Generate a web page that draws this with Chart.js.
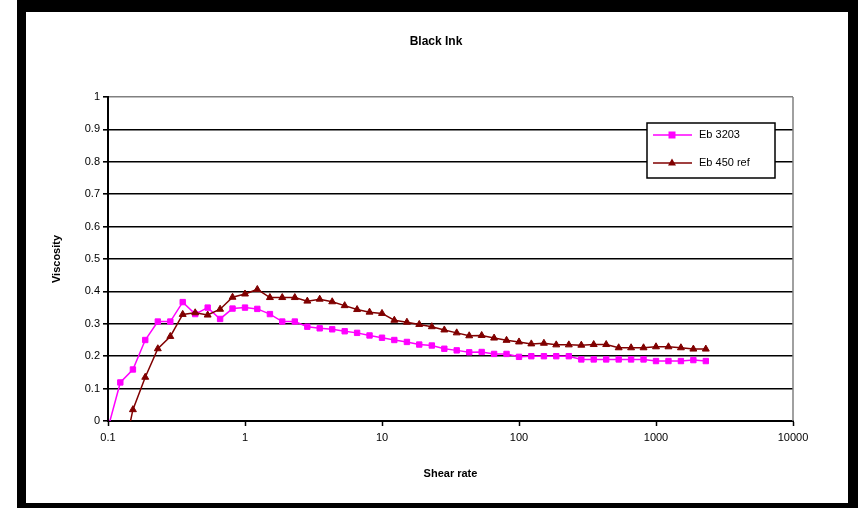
<!DOCTYPE html>
<html>
<head>
<meta charset="utf-8">
<script src="https://cdn.jsdelivr.net/npm/chart.js@4/dist/chart.umd.min.js"></script>
<style>
  html, body { margin: 0; padding: 0; background: #fff; }
  #wrap { position: relative; width: 860px; height: 508px; }
</style>
</head>
<body>
<div id="wrap"><canvas id="chart" width="860" height="508"></canvas></div>
<script>
// Shear rate sweep (log spaced, ~11 points per decade)
const shearRate = [
  0.100, 0.123, 0.152, 0.187, 0.231, 0.285, 0.351, 0.433, 0.534, 0.658,
  0.811, 1.00, 1.23, 1.52, 1.87, 2.31, 2.85, 3.51, 4.33, 5.34,
  6.58, 8.11, 10.0, 12.3, 15.2, 18.7, 23.1, 28.5, 35.1, 43.3,
  53.4, 65.8, 81.1, 100, 123, 152, 187, 231, 285, 351,
  433, 534, 658, 811, 1000, 1233, 1520, 1874, 2310
];

// Viscosity, Eb 3203
const eb3203 = [
  -0.022, 0.119, 0.159, 0.250, 0.307, 0.307, 0.367, 0.330, 0.350, 0.315,
  0.347, 0.350, 0.346, 0.330, 0.307, 0.307, 0.291, 0.286, 0.283, 0.277,
  0.272, 0.264, 0.257, 0.250, 0.244, 0.236, 0.233, 0.223, 0.218, 0.212,
  0.213, 0.207, 0.207, 0.198, 0.200, 0.200, 0.200, 0.200, 0.190, 0.190,
  0.190, 0.190, 0.190, 0.190, 0.185, 0.185, 0.185, 0.188, 0.185
];

// Viscosity, Eb 450 ref (no reading at the first shear rate)
const eb450ref = [
  null, -0.150, 0.035, 0.135, 0.223, 0.261, 0.329, 0.334, 0.327, 0.345,
  0.382, 0.392, 0.406, 0.381, 0.381, 0.381, 0.370, 0.376, 0.368, 0.356,
  0.344, 0.336, 0.332, 0.311, 0.305, 0.298, 0.291, 0.281, 0.272, 0.263,
  0.264, 0.256, 0.249, 0.244, 0.238, 0.240, 0.235, 0.235, 0.234, 0.236,
  0.236, 0.226, 0.226, 0.226, 0.229, 0.229, 0.226, 0.222, 0.222
];

const seriesNames = ['Eb 3203', 'Eb 450 ref'];
const xTickValues = [0.1, 1, 10, 100, 1000, 10000];

const toPoints = (vals) => shearRate
  .map((x, i) => ({ x: x, y: vals[i] }))
  .filter(p => p.y !== null);

const PINK = '#FF00FF';
const MAROON = '#800000';
const FONT = 'Liberation Sans, Arial, sans-serif';

// Outer frame, title, plot border and the in-plot legend
const decor = {
  id: 'decor',
  beforeDraw(chart) {
    const c = chart.ctx;
    c.save();
    c.fillStyle = '#fff';
    c.fillRect(0, 0, chart.width, chart.height);
    c.fillStyle = '#000';
    c.fillRect(17, 0, 841, 12);     // top band
    c.fillRect(17, 0, 9, 508);      // left band
    c.fillRect(848, 0, 10, 508);    // right band
    c.fillRect(17, 503, 841, 5);    // bottom band
    c.fillStyle = '#000';
    c.font = 'bold 12px ' + FONT;
    c.textAlign = 'center';
    c.textBaseline = 'middle';
    c.fillText('Black Ink', 436, 42);
    c.restore();
  },
  beforeDatasetsDraw(chart) {
    const a = chart.chartArea;
    const c = chart.ctx;
    c.save();
    c.strokeStyle = '#808080';
    c.lineWidth = 1.5;
    c.beginPath();
    c.moveTo(a.right, a.top);
    c.lineTo(a.right, a.bottom);
    c.stroke();
    c.restore();
  },
  afterDraw(chart) {
    const c = chart.ctx;
    const bx = 647, by = 123, bw = 128, bh = 55;
    c.save();
    c.fillStyle = '#fff';
    c.fillRect(bx, by, bw, bh);
    c.strokeStyle = '#000';
    c.lineWidth = 1.5;
    c.strokeRect(bx, by, bw, bh);
    const rows = [
      { y: 135, color: PINK, style: 'rect' },
      { y: 163, color: MAROON, style: 'triangle' }
    ];
    rows.forEach((r, i) => {
      c.strokeStyle = r.color;
      c.lineWidth = 1.5;
      c.beginPath();
      c.moveTo(653, r.y);
      c.lineTo(692, r.y);
      c.stroke();
      c.fillStyle = r.color;
      c.beginPath();
      if (r.style === 'rect') {
        c.rect(668.5, r.y - 3.5, 7, 7);
      } else {
        c.moveTo(672, r.y - 4.5);
        c.lineTo(676, r.y + 2.5);
        c.lineTo(668, r.y + 2.5);
        c.closePath();
      }
      c.fill();
      c.fillStyle = '#000';
      c.font = '11px ' + FONT;
      c.textAlign = 'left';
      c.textBaseline = 'middle';
      c.fillText(seriesNames[i], 699, r.y);
    });
    c.restore();
  }
};

new Chart(document.getElementById('chart'), {
  type: 'line',
  data: {
    datasets: [
      {
        label: seriesNames[0],
        data: toPoints(eb3203),
        borderColor: PINK,
        backgroundColor: PINK,
        borderWidth: 1.5,
        pointStyle: 'rect',
        pointRadius: 3.8,
        pointBorderWidth: 1,
        tension: 0,
        order: 2
      },
      {
        label: seriesNames[1],
        data: toPoints(eb450ref),
        borderColor: MAROON,
        backgroundColor: MAROON,
        borderWidth: 1.5,
        pointStyle: 'triangle',
        pointRadius: 4,
        pointBorderWidth: 1,
        tension: 0,
        order: 1
      }
    ]
  },
  options: {
    responsive: false,
    animation: false,
    devicePixelRatio: 1,
    layout: { padding: { left: 26, top: 97, right: 67, bottom: 4 } },
    plugins: {
      legend: { display: false },
      title: { display: false },
      tooltip: { enabled: false }
    },
    scales: {
      x: {
        type: 'logarithmic',
        min: 0.1,
        max: 10000,
        afterBuildTicks(scale) {
          scale.ticks = xTickValues.map(v => ({ value: v, major: true }));
        },
        afterFit(scale) { scale.height = 83; },
        ticks: {
          color: '#000',
          font: { family: FONT, size: 11 },
          padding: 5,
          maxRotation: 0,
          autoSkip: false,
          callback: (v) => String(v)
        },
        grid: {
          display: true,
          drawOnChartArea: false,
          drawTicks: true,
          tickLength: 5,
          tickColor: '#000',
          tickWidth: 1.5
        },
        border: { display: true, color: '#000', width: 2 },
        title: {
          display: true,
          text: 'Shear rate',
          color: '#000',
          font: { family: FONT, size: 11, weight: 'bold' },
          padding: { top: 0, bottom: 23.4 }
        }
      },
      y: {
        type: 'linear',
        min: 0,
        max: 1,
        afterFit(scale) { scale.width = 82; },
        ticks: {
          stepSize: 0.1,
          color: '#000',
          font: { family: FONT, size: 11 },
          padding: 3,
          callback: (v) => String(Math.round(v * 10) / 10)
        },
        grid: {
          color: (ctx) => (ctx.tick && Math.abs(ctx.tick.value - 1) < 1e-9) ? '#808080' : '#000',
          lineWidth: 1.6,
          drawTicks: true,
          tickLength: 5,
          tickColor: '#000'
        },
        border: { display: true, color: '#000', width: 2 },
        title: {
          display: true,
          text: 'Viscosity',
          color: '#000',
          font: { family: FONT, size: 11, weight: 'bold' },
          padding: { top: 24.4, bottom: 0 }
        }
      }
    }
  },
  plugins: [decor]
});
</script>
</body>
</html>
